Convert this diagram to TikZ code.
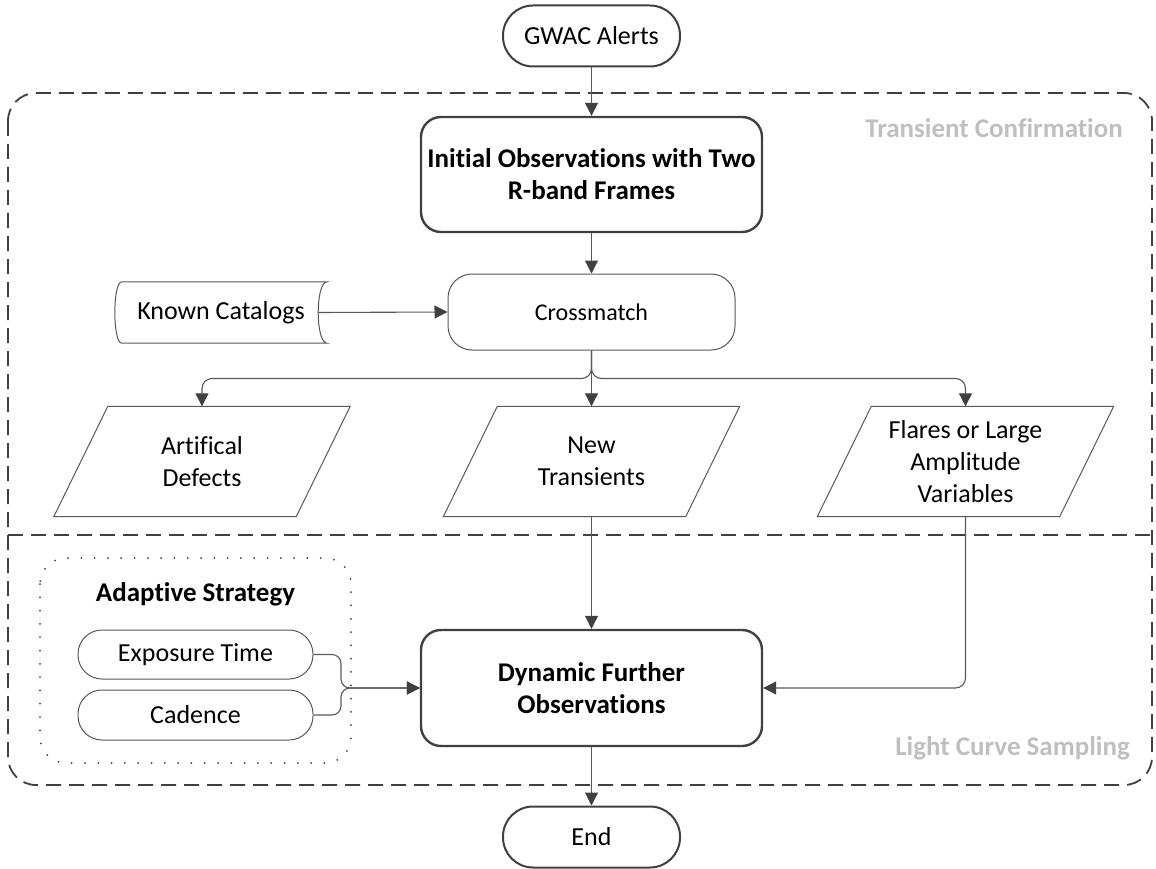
\documentclass[tikz,border=0pt]{standalone}
\usepackage{fontspec}
\setmainfont{Carlito}[Ligatures=NoCommon]
\usetikzlibrary{positioning,shapes.geometric,arrows.meta}

\definecolor{darkline}{HTML}{404040}
\definecolor{thinline}{HTML}{595959}
\definecolor{phasegrey}{HTML}{BFBFBF}

\begin{document}
\begin{tikzpicture}[x=1pt,y=-1pt,
  every node/.style={inner sep=0pt,font=\fontsize{26}{32}\selectfont},
  terminal/.style={draw=darkline,line width=2pt,rounded corners=30,minimum width=177,minimum height=61},
  mainbox/.style={draw=darkline,line width=2.4pt,rounded corners=20,minimum width=341,minimum height=115,align=center,font=\fontsize{27}{32}\selectfont\bfseries},
  procbox/.style={draw=thinline,line width=1pt,rounded corners=24,minimum width=287,minimum height=76,font=\fontsize{24}{28}\selectfont},
  databox/.style={minimum width=296,minimum height=110,align=center},
  optbox/.style={draw=thinline,line width=1pt,rounded corners=24,minimum width=235,minimum height=49},
  conn/.style={draw=thinline,line width=1.1pt,-{Triangle[length=13pt,width=13pt,color=darkline]}},
  phaseline/.style={draw=darkline,line width=1.8pt,dash pattern=on 15pt off 8pt},
  phaselabel/.style={anchor=east,text=phasegrey,font=\fontsize{27}{30}\selectfont\bfseries}]
\useasboundingbox (0,0) rectangle (1156,869);

% phase frames
\draw[phaseline,rounded corners=28] (8,93) rectangle (1152,785);
\draw[phaseline] (8,535) -- (1152,535);
\draw[draw=darkline,line width=2pt,line cap=round,dash pattern=on 0pt off 13.3pt,rounded corners=26] (40,558) rectangle (351,763);

% Text Node
\node[phaselabel] (tclabel) at (1123,128) {Transient Confirmation};
% Text Node
\node[phaselabel] (lclabel) at (1130,748) {Light Curve Sampling};

% flow nodes
\node[terminal] (alerts) at (591.5,36) {GWAC Alerts};
\node[mainbox] (init) at (591.5,174.5) {Initial Observations with Two\\R-band Frames};
\node[procbox] (cm) at (591.5,312) {Crossmatch};
\node[minimum width=212,minimum height=61] (kc) at (221,312.5) {Known Catalogs};
\draw[draw=thinline,line width=1pt] (kc.north east) -- ([xshift=7]kc.north west)
  .. controls ([xshift=-2.3]kc.north west) and ([xshift=-2.3]kc.south west) .. ([xshift=7]kc.south west)
  -- (kc.south east)
  .. controls ([xshift=-12]kc.south east) and ([xshift=-12]kc.north east) .. cycle;

\node[databox] (ad) at (202,461.5) {Artifical\\Defects};
\node[databox] (nt) at (591.5,461.5) {New\\Transients};
\node[databox] (fl) at (965.5,461.5) {Flares or Large\\Amplitude\\Variables};
\foreach \n in {ad,nt,fl}
  \draw[draw=thinline,line width=1pt] ([xshift=54]\n.north west) -- (\n.north east)
    -- ([xshift=-54]\n.south east) -- (\n.south west) -- cycle;

\node[mainbox,minimum height=116] (dyn) at (591.5,688) {Dynamic Further\\Observations};
\node[terminal] (end) at (591.5,837) {End};

% adaptive strategy
\node[font=\fontsize{27}{32}\selectfont\bfseries] (adapt) at (195.5,594) {Adaptive Strategy};
\node[optbox] (et) at (195.5,654.5) {Exposure Time};
\node[optbox,minimum height=50] (cad) at (195.5,715) {Cadence};
\coordinate (merge) at (341,688);

% connectors
\draw[conn] (alerts) -- (init);
\draw[conn] (init) -- (cm);
\draw[conn] ([xshift=-9]kc.east) -- (cm.west);
\draw[conn,rounded corners=10] (cm.south) -- ++(0,28) -| (ad.north);
\draw[conn] (cm.south) -- (nt.north);
\draw[conn,rounded corners=10] (cm.south) -- ++(0,28) -| (fl.north);
\draw[conn] (nt.south) -- (dyn.north);
\draw[conn,rounded corners=10] (fl.south) |- (dyn.east);
\draw[conn,rounded corners=9] (et.east) -| (merge) -- (dyn.west);
\draw[conn,rounded corners=9] (cad.east) -| (merge) -- (dyn.west);
\draw[conn] (dyn) -- (end);

\end{tikzpicture}
\end{document}
